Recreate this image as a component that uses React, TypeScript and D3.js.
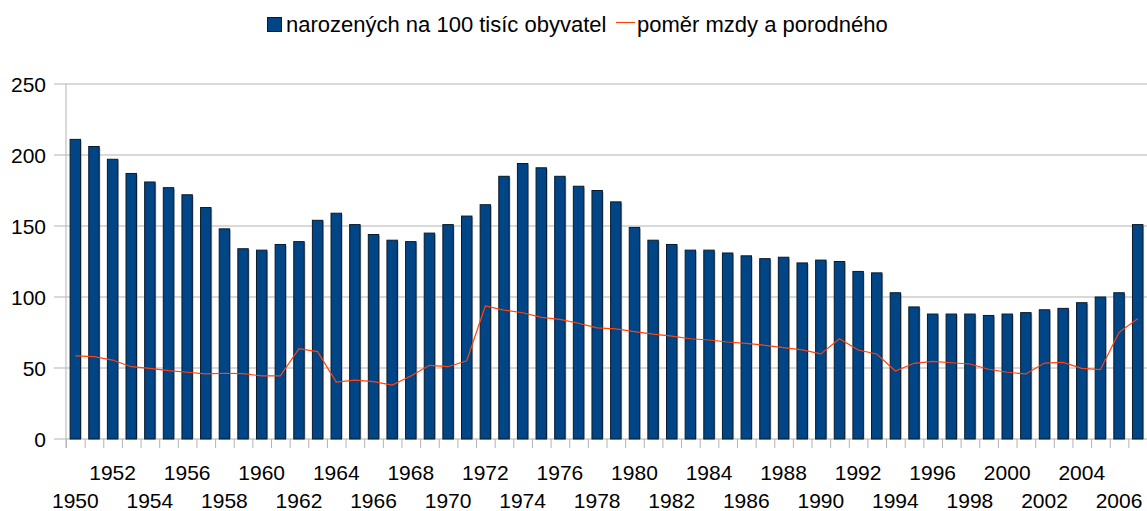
import React from "react";
import * as d3 from "d3";

const years: number[] = d3.range(1950, 2008);
const births: number[] = [
  211, 206, 197, 187, 181, 177, 172, 163, 148, 134,
  133, 137, 139, 154, 159, 151, 144, 140, 139, 145,
  151, 157, 165, 185, 194, 191, 185, 178, 175, 167,
  149, 140, 137, 133, 133, 131, 129, 127, 128, 124,
  126, 125, 118, 117, 103, 93, 88, 88, 88, 87,
  88, 89, 91, 92, 96, 100, 103, 151,
];
const ratio: number[] = [
  58.5, 58, 55.6, 50.9, 49.8, 48.1, 47, 45.8, 46.3, 46,
  44.4, 44.4, 63.6, 61.5, 40.1, 41.5, 40.4, 38, 44.4, 51.9,
  50.9, 55.1, 93.7, 90.8, 88.9, 85.7, 84.3, 81.5, 78.2, 77.5,
  75.6, 73.9, 72.5, 70.6, 69.7, 68.3, 67.4, 66, 64.3, 62.7,
  59.9, 70.6, 62.7, 59.9, 47.9, 53.3, 54.7, 53.7, 52.8, 49.1,
  47, 45.8, 53.5, 53.9, 49.8, 48.8, 75.1, 84.7,
];
const yTicks: number[] = [0, 50, 100, 150, 200, 250];
const seriesNames: string[] = ["narozených na 100 tisíc obyvatel", "poměr mzdy a porodného"];

const W = 1147;
const H = 511;
const left = 66;
const right = 1147;
const top = 84;
const bottom = 439;
const BLUE = "#004586";
const ORANGE = "#ff420e";
const GRID = "#b3b3b3";
const FONT = "'Liberation Sans', Arial, sans-serif";

export default function App() {
  const x = d3.scaleBand<number>().domain(years).range([left, right]).paddingInner(0).paddingOuter(0);
  const y = d3.scaleLinear().domain([0, 250]).range([bottom, top]);
  const bw = x.bandwidth();
  const barW = bw * 0.56;
  const line = d3
    .line<number>()
    .x((_, i) => (x(years[i]) as number) + bw / 2)
    .y((d) => y(d));

  return (
    <svg
      width={W}
      height={H}
      style={{ position: "absolute", left: 0, top: 0, background: "#fff" }}
      fontFamily={FONT}
    >
      <rect x={0} y={0} width={W} height={H} fill="#fff" />
      {/* grid */}
      {yTicks.map((t) => (
        <g key={t}>
          <line x1={left - 12} x2={right} y1={y(t)} y2={y(t)} stroke={GRID} strokeWidth={1} />
          <text x={46} y={y(t) + 8} textAnchor="end" fontSize={21} fill="#000">
            {t}
          </text>
        </g>
      ))}
      <line x1={left} x2={left} y1={top} y2={bottom + 9} stroke={GRID} strokeWidth={1} />
      {years.map((yr) => (
        <line
          key={"t" + yr}
          x1={(x(yr) as number) + 0.5}
          x2={(x(yr) as number) + 0.5}
          y1={bottom}
          y2={bottom + 9}
          stroke={GRID}
          strokeWidth={1}
        />
      ))}
      {/* bars */}
      {births.map((v, i) => {
        const cx = (x(years[i]) as number) + bw / 2;
        return (
          <g key={"b" + i}>
            <rect
              x={cx - barW / 2 + 1.2}
              y={y(v) + 1.2}
              width={barW}
              height={bottom - y(v) - 1.2}
              fill="#9a9a9a"
              opacity={0.7}
            />
            <rect
              x={cx - barW / 2}
              y={y(v)}
              width={barW}
              height={bottom - y(v)}
              fill={BLUE}
              stroke="#0a1a2a"
              strokeWidth={1}
            />
          </g>
        );
      })}
      {/* line */}
      <path d={line(ratio) || ""} fill="none" stroke={ORANGE} strokeWidth={1.2} />
      {/* x labels */}
      {years.map((yr, i) =>
        i % 2 === 0 ? (
          <text
            key={"l" + yr}
            x={(x(yr) as number) + bw / 2}
            y={i % 4 === 0 ? 508 : 480}
            textAnchor="middle"
            fontSize={21}
            fill="#000"
          >
            {yr}
          </text>
        ) : null
      )}
      {/* legend */}
      <rect x={267.5} y={17.5} width={14} height={14} fill={BLUE} stroke="#0a1a2a" strokeWidth={1} />
      <text x={286} y={32} fontSize={22} fill="#000">
        {seriesNames[0]}
      </text>
      <line x1={616} x2={635} y1={22.5} y2={22.5} stroke={ORANGE} strokeWidth={1.2} />
      <text x={637} y={32} fontSize={22} fill="#000">
        {seriesNames[1]}
      </text>
    </svg>
  );
}
